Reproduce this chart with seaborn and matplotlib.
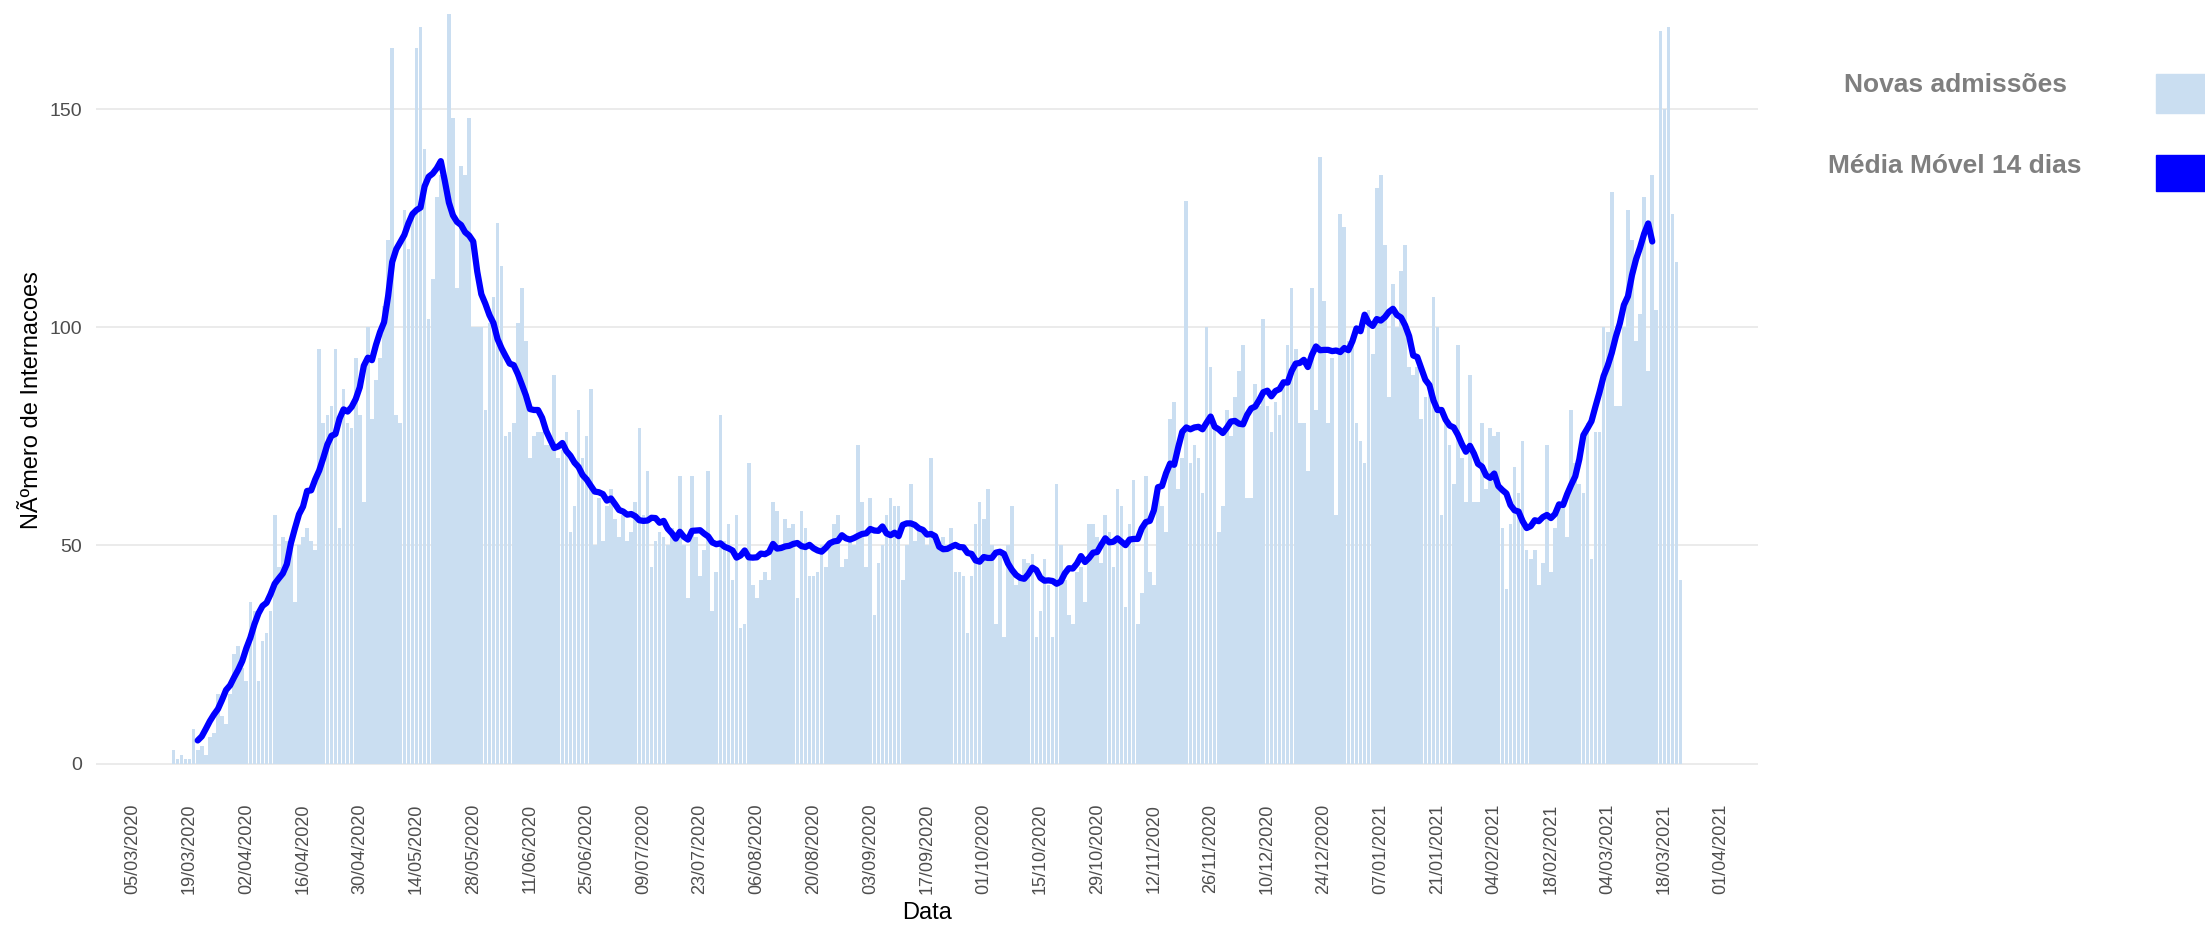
import pandas as pd
import seaborn as sns
import matplotlib.pyplot as plt
from matplotlib.patches import Rectangle

# daily new admissions (one value per day)
admissions = [
    3, 1, 2, 1, 1, 8, 3, 4, 2, 6, 7, 16, 11, 9, 16, 25, 27, 22, 19, 37,
    35, 19, 28, 30, 35, 57, 45, 52, 51, 49, 37,
    50, 52, 54, 51, 49, 95, 78, 80, 82, 95, 54, 86, 78, 77, 93, 80, 60, 100,
    79, 88, 93, 105, 120, 164, 80, 78, 127, 118, 125, 164, 169, 141,
    102, 111, 130, 135, 133, 172, 148, 109, 137, 135, 148, 100, 100, 100, 81,
    101, 107, 124, 114, 75, 76, 78, 101, 109, 97, 70, 75, 76, 76, 73, 73,
    89, 70, 72, 76, 53, 59, 81, 70, 75, 86, 50, 61, 51, 59, 63, 56, 52, 57,
    51, 53, 60, 77, 57, 67, 45, 51, 53, 52, 50, 54, 53, 66, 50,
    38, 66, 52, 43, 49, 67, 35, 44, 80, 51, 55, 42, 57, 31, 32, 69, 41, 38,
    42, 44, 42, 60, 58, 50, 56, 54, 55, 38, 58, 54, 43, 43,
    44, 50, 45, 50, 55, 57, 45, 47, 51, 50, 73, 60, 45, 61, 34, 46, 50, 57,
    61, 59, 59, 42, 50, 64, 51, 54, 53, 50, 70, 51, 50, 52,
    50, 54, 44, 44, 43, 30, 43, 55, 60, 56, 63, 50, 32, 49, 29, 50, 59, 41,
    43, 47, 46, 48, 29, 35, 47, 41, 29, 64, 50, 42, 34, 32,
    44, 45, 37, 55, 55, 52, 46, 57, 53, 45, 63, 59, 36, 55, 65, 32, 39, 66,
    44, 41, 64, 59, 53, 79, 83, 63, 70, 129, 69, 73, 70, 62,
    100, 91, 78, 53, 59, 81, 75, 84, 90, 96, 61, 61, 87, 82, 102, 82, 76, 83,
    80, 87, 96, 109, 95, 78, 78, 67, 109, 81, 139, 106, 78, 93,
    57, 126, 123, 97, 96, 78, 74, 69, 104, 94, 132, 135, 119, 84, 110, 100,
    113, 119, 91, 89, 91, 79, 84, 86, 107, 100, 57, 79, 73, 64, 96, 70,
    60, 89, 60, 60, 78, 63, 77, 75, 76, 54, 40, 55, 68, 62, 74, 49, 47, 49,
    41, 46, 73, 44, 54, 60, 59, 52, 81, 69, 64, 62, 78, 47,
    76, 76, 100, 99, 131, 82, 82, 100, 127, 120, 97, 103, 130, 90, 135, 104,
    168, 150, 169, 126, 115, 42,
]
start_date = "2020-03-15"
tick_start, tick_end = "2020-03-05", "2021-04-01"

dates = pd.date_range(start_date, periods=len(admissions), freq="D")
origin = pd.Timestamp(tick_start)
df = pd.DataFrame({"day": (dates - origin).days, "admissions": admissions})
# 14 day centred mean (window i-6 .. i+7, like zoo::rollmean)
df["media_movel"] = df["admissions"].rolling(14).mean().shift(-7)

sns.set_style("whitegrid", {"grid.color": "#ebebeb"})
plt.rcParams["font.family"] = ["Liberation Sans", "DejaVu Sans"]

bar_col = "#cadef1"
line_col = "#0000ff"

fig = plt.figure(figsize=(22.05, 9.26), dpi=100)
ax = fig.add_axes([96 / 2205, 1 - 801 / 926, 1662 / 2205, 801 / 926])

sns.barplot(data=df, x="day", y="admissions", native_scale=True, width=0.9,
            color=bar_col, saturation=1, linewidth=0, errorbar=None, ax=ax)
sns.lineplot(data=df, x="day", y="media_movel", color=line_col,
             linewidth=4.5, ax=ax)

tick_dates = pd.date_range(tick_start, tick_end, freq="14D")
ax.set_xticks((tick_dates - origin).days)
ax.set_xticklabels(tick_dates.strftime("%d/%m/%Y"), rotation=90,
                   fontsize=13, color="#4d4d4d")
ax.set_yticks([0, 50, 100, 150])
ax.tick_params(axis="y", labelsize=14, labelcolor="#4d4d4d", length=0, pad=10)
ax.tick_params(axis="x", length=0, pad=2)

ax.set_xlim(-9.1, 401.1)
ax.set_ylim(-8.6, 175.1)
ax.xaxis.grid(False)
ax.yaxis.grid(True, color="#ebebeb", linewidth=1.4)
ax.set_axisbelow(True)
sns.despine(ax=ax, left=True, bottom=True)

ax.set_ylabel("NÃºmero de Internacoes", fontsize=17, color="black")
ax.yaxis.set_label_coords(-0.032, 0.5)
ax.set_xlabel("Data", fontsize=17, color="black")
ax.xaxis.set_label_coords(0.5, -0.126)

# legend, drawn on the right like the original
fig.text(1955 / 2205, 1 - 85 / 926, "Novas admissões", ha="center", va="center",
         fontsize=19, fontweight="bold", color="#7f7f7f")
fig.text(1955 / 2205, 1 - 166 / 926, "Média Móvel 14 dias", ha="center",
         va="center", fontsize=19, fontweight="bold", color="#7f7f7f")
fig.add_artist(Rectangle((2156 / 2205, 1 - 112.5 / 926), 60 / 2205, 38 / 926,
                         transform=fig.transFigure, color=bar_col))
fig.add_artist(Rectangle((2156 / 2205, 1 - 191 / 926), 60 / 2205, 36 / 926,
                         transform=fig.transFigure, color=line_col))

fig.savefig("out.png", dpi=100)
